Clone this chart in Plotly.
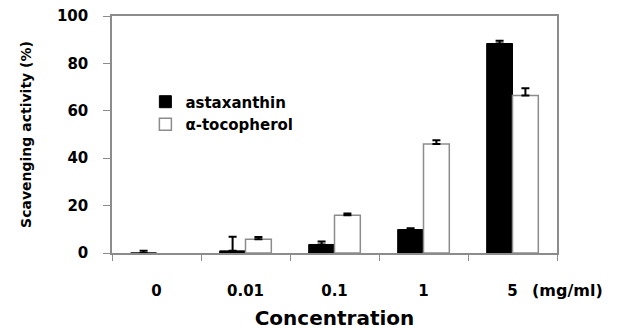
import plotly.graph_objects as go

categories = ["0", "0.01", "0.1", "1", "5"]
astaxanthin = [0.0, 0.9, 3.6, 9.9, 88.4]
astaxanthin_err = [1.0, 6.0, 1.3, 0.5, 1.2]
tocopherol = [None, 5.8, 15.9, 46.0, 66.5]
tocopherol_err = [None, 0.9, 0.8, 1.6, 3.0]
y_ticks = [0, 20, 40, 60, 80, 100]

FONT = "DejaVu Sans"
GRAY = "#8c8c8c"

fig = go.Figure()
fig.add_trace(go.Bar(
    x=categories, y=astaxanthin, name="astaxanthin",
    marker=dict(color="black", line=dict(color="black", width=1)),
    error_y=dict(type="data", array=astaxanthin_err, arrayminus=[0]*5,
                 symmetric=False, color="black", thickness=2, width=4),
))
fig.add_trace(go.Bar(
    x=categories, y=tocopherol, name="α-tocopherol",
    marker=dict(color="white", line=dict(color=GRAY, width=1.5)),
    error_y=dict(type="data", array=tocopherol_err, arrayminus=[0]*5,
                 symmetric=False, color="black", thickness=2, width=4),
))

fig.update_layout(
    width=631, height=330,
    margin=dict(l=112, r=74, t=16, b=77),
    paper_bgcolor="white", plot_bgcolor="white",
    barmode="group", bargap=0.42, bargroupgap=0,
    showlegend=True,
    legend=dict(x=0.075, y=0.707, xanchor="left", yanchor="top",
                bgcolor="rgba(0,0,0,0)",
                font=dict(family=FONT, size=15, color="black", weight="bold"),
                tracegroupgap=9),
    font=dict(family=FONT, color="black"),
    xaxis=dict(
        type="category", showline=True, linecolor=GRAY, linewidth=1.5,
        mirror=True, ticks="outside", tickson="boundaries", ticklen=6,
        tickcolor=GRAY, showgrid=False, automargin=False,
        tickfont=dict(family=FONT, size=15, color="black", weight="bold"),
        ticklabelstandoff=23,
        title=dict(text="Concentration",
                   font=dict(family=FONT, size=20, color="black", weight="bold")),
    ),
    yaxis=dict(
        range=[0, 100], tickvals=y_ticks, showline=True, linecolor=GRAY,
        linewidth=1.5, mirror=True, ticks="outside", ticklen=7, tickcolor=GRAY,
        showgrid=False, zeroline=False, automargin=False,
        tickfont=dict(family=FONT, size=15, color="black", weight="bold"),
        ticklabelstandoff=12,
        title=dict(text="Scavenging activity (%)", standoff=22,
                   font=dict(family=FONT, size=14, color="black", weight="bold")),
    ),
)
plot_h = 330 - 16 - 77
fig.add_annotation(
    text="(mg/ml)", x=1.0, xref="paper", xanchor="left", xshift=-27,
    y=-(290 - 253) / plot_h, yref="paper", yanchor="middle", showarrow=False,
    font=dict(family=FONT, size=16, color="black", weight="bold"),
)

fig.write_html("out.html")
